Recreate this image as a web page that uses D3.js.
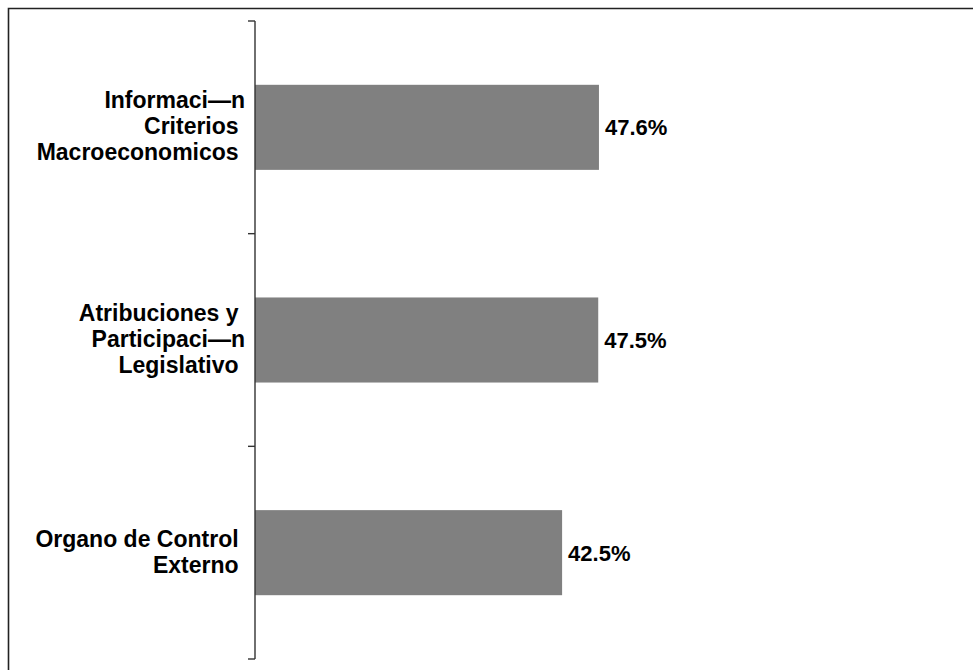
<!DOCTYPE html>
<html>
<head>
<meta charset="utf-8">
<script src="https://cdn.jsdelivr.net/npm/d3@7"></script>
<style>
body{margin:0;background:#fff;}
svg{display:block;}
text{font-family:"Liberation Sans", Arial, Helvetica, sans-serif;font-weight:bold;fill:#000;}
</style>
</head>
<body>
<div id="chart"></div>
<script>
var categories = ["info", "atrib", "organo"];
var labelLines = [
	["Informaci\u2014n", "Criterios ", "Macroeconomicos "],
	["Atribuciones y ", "Participaci\u2014n", "Legislativo "],
	["Organo de Control ", "Externo "]
];
var values = [47.6, 47.5, 42.5];
var valueLabels = ["47.6%", "47.5%", "42.5%"];

var width = 973, height = 670;
var axisX = 255, yTop = 21, yBottom = 659;

var svg = d3.select("#chart").append("svg")
	.attr("width", width)
	.attr("height", height);

// outer frame (only left and top edges are visible)
svg.append("path")
	.attr("d", "M8.5," + height + "V8.5H" + width)
	.attr("fill", "none")
	.attr("stroke", "#222")
	.attr("stroke-width", 1.6);

var y = d3.scaleBand()
	.domain(categories)
	.range([yTop, yBottom])
	.paddingInner(0.6)
	.paddingOuter(0.3);

var x = d3.scaleLinear()
	.domain([0, 50])
	.range([axisX, axisX + 361.3]);

svg.selectAll("rect.bar").data(values).enter()
	.append("rect")
	.attr("class", "bar")
	.attr("x", x(0))
	.attr("y", function(d, i){ return y(categories[i]); })
	.attr("width", function(d){ return x(d) - x(0); })
	.attr("height", y.bandwidth())
	.attr("fill", "#808080");

// axis line with ticks at band boundaries
var ticks = d3.range(categories.length + 1).map(function(i){ return yTop + i * (yBottom - yTop) / categories.length; });
svg.append("line")
	.attr("x1", axisX).attr("x2", axisX)
	.attr("y1", yTop).attr("y2", yBottom)
	.attr("stroke", "#333").attr("stroke-width", 1.4);
svg.selectAll("line.tick").data(ticks).enter()
	.append("line")
	.attr("class", "tick")
	.attr("x1", axisX - 7).attr("x2", axisX)
	.attr("y1", function(d){ return d; }).attr("y2", function(d){ return d; })
	.attr("stroke", "#333").attr("stroke-width", 1.4);

// category labels
var lineH = 26;
categories.forEach(function(c, i){
	var lines = labelLines[i];
	var cy = y(c) + y.bandwidth() / 2;
	var first = cy + 7 - (lines.length - 1) * lineH / 2;
	var t = svg.append("text")
		.attr("text-anchor", "end")
		.attr("xml:space", "preserve")
		.style("white-space", "pre")
		.style("font-size", "23px");
	lines.forEach(function(l, j){
		t.append("tspan")
			.attr("x", 245)
			.attr("y", first + j * lineH)
			.text(l);
	});
});

// value labels
svg.selectAll("text.val").data(values).enter()
	.append("text")
	.attr("class", "val")
	.attr("x", function(d){ return x(d) + 6; })
	.attr("y", function(d, i){ return y(categories[i]) + y.bandwidth() / 2 + 8; })
	.style("font-size", "22px")
	.text(function(d, i){ return valueLabels[i]; });
</script>
</body>
</html>
